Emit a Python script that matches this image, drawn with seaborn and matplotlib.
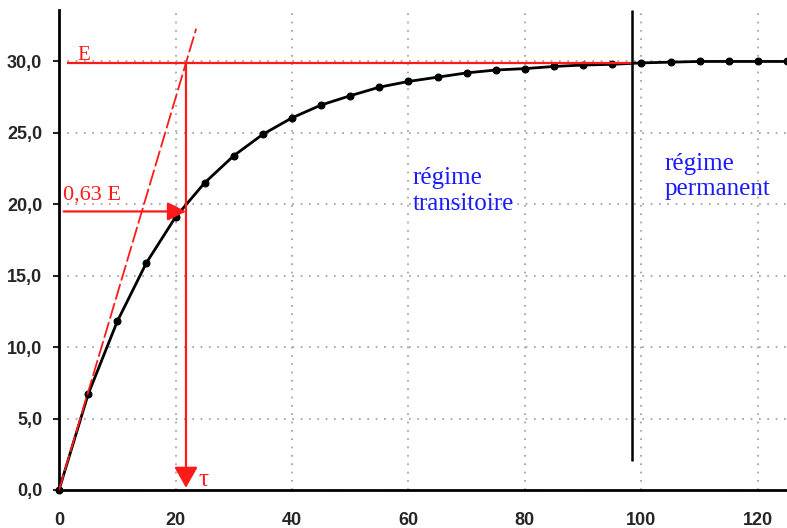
import numpy as np
import pandas as pd
import matplotlib
matplotlib.use("Agg")
import matplotlib.pyplot as plt
import seaborn as sns

# charge du condensateur : points relevés toutes les 5 s
t = [0, 5, 10, 15, 20, 25, 30, 35, 40, 45, 50, 55, 60, 65, 70, 75, 80, 85, 90, 95,
     100, 105, 110, 115, 120, 125]
uc = [0.0, 6.7, 11.8, 15.9, 19.1, 21.5, 23.4, 24.9, 26.05, 26.95, 27.6, 28.2, 28.6,
      28.9, 29.2, 29.4, 29.5, 29.65, 29.75, 29.8, 29.9, 29.95, 30.0, 30.0, 30.0, 30.0]
xticks = [0, 20, 40, 60, 80, 100, 120]
yticks = [0, 5, 10, 15, 20, 25, 30]
ylabels = ["0,0", "5,0", "10,0", "15,0", "20,0", "25,0", "30,0"]

E = 29.9
E63 = 19.5
tau = 21.8
t_perm = 98.3

df = pd.DataFrame({"t": t, "uc": uc})

sns.set_style("white")
plt.rcParams["font.family"] = ["Liberation Sans", "DejaVu Sans"]

fig = plt.figure(figsize=(7.87, 5.28), dpi=100)
ax = fig.add_axes([0.075, 0.072, 0.925, 0.909])

sns.lineplot(data=df, x="t", y="uc", ax=ax, color="black", linewidth=2,
             marker="o", markersize=5, markeredgecolor="black", clip_on=False)

ax.set_xlim(0, 125)
ax.set_ylim(0, 33.6)
ax.set_xticks(xticks)
ax.set_xticklabels([str(v) for v in xticks], fontsize=13, fontweight="bold")
ax.set_yticks(yticks)
ax.set_yticklabels(ylabels, fontsize=13, fontweight="bold")
ax.set_xlabel("")
ax.set_ylabel("")
ax.tick_params(axis="x", length=0, pad=16)
ax.tick_params(axis="y", length=4, width=1.5, pad=8, direction="out", left=True)

ax.grid(True, color="#999999", linestyle=(0, (1, 4)), linewidth=1.2)
for s in ["top", "right"]:
    ax.spines[s].set_visible(False)
ax.spines["left"].set_linewidth(2)
ax.spines["bottom"].set_linewidth(2)
ax.spines["left"].set_color("black")
ax.spines["bottom"].set_color("black")

red = "#ff1a1a"
# E et tangente à l'origine
ax.hlines(E, 1.4, t_perm, color=red, linewidth=1.6, zorder=4)
ax.plot([0, 32.3 * tau / E], [0, 32.3], color=red, linewidth=1.3,
        linestyle=(0, (9, 2)), zorder=4)
# tau
ax.annotate("", xy=(tau, 0.15), xytext=(tau, E),
            arrowprops=dict(arrowstyle="-|>,head_length=0.8,head_width=0.45",
                            color=red, lw=1.6, mutation_scale=16,
                            shrinkA=0, shrinkB=0), zorder=4)
ax.annotate("", xy=(tau, E63), xytext=(0.8, E63),
            arrowprops=dict(arrowstyle="-|>,head_length=0.7,head_width=0.35",
                            color=red, lw=1.6, mutation_scale=16,
                            shrinkA=0, shrinkB=0), zorder=4)

ax.vlines(t_perm, 2.0, 33.6, color="black", linewidth=1.8, zorder=4)

serif = ["Liberation Serif", "DejaVu Serif"]
ax.text(3.2, 30.1, "E", color=red, fontsize=15, family=serif, va="baseline")
ax.text(0.7, 20.3, "0,63 E", color=red, fontsize=16, family=serif, va="baseline")
ax.text(24.0, 0.25, "τ", color=red, fontsize=18, family=serif, va="baseline")
ax.text(60.7, 22.6, "régime\ntransitoire", color="#1a1aff", fontsize=18,
        family=serif, va="top", linespacing=1.2)
ax.text(103.9, 23.6, "régime\npermanent", color="#1a1aff", fontsize=18,
        family=serif, va="top", linespacing=1.2)

fig.savefig("out.png", dpi=100)
